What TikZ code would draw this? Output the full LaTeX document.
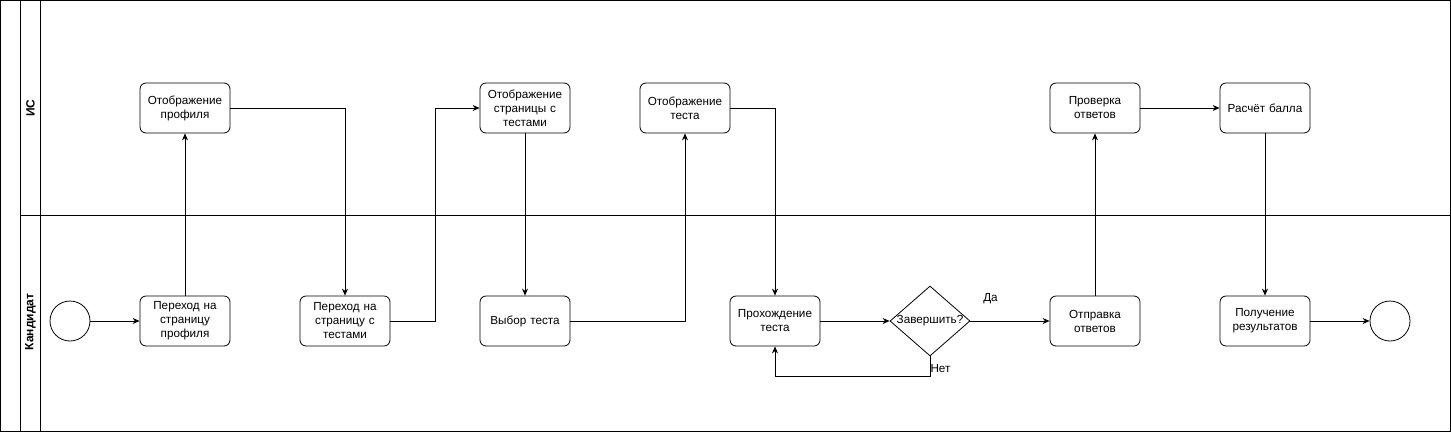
\documentclass[tikz,border=0pt]{standalone}
\usepackage{fontspec}
\setmainfont{Liberation Sans}
\usetikzlibrary{arrows.meta,shapes.geometric}
\begin{document}
\begin{tikzpicture}[x=1pt,y=-1pt,
  every node/.style={font=\fontsize{11.7}{14}\selectfont},
  task/.style={draw,rounded corners=6pt,minimum width=90pt,minimum height=50pt,align=center,text width=84pt,line width=0.8pt,inner sep=0pt},
  gate/.style={draw,diamond,aspect=1.14,minimum width=80pt,minimum height=70pt,inner sep=0pt,line width=0.8pt},
  evt/.style={draw,circle,minimum size=40pt,inner sep=0pt,line width=0.8pt},
  flow/.style={-{Stealth[length=7pt,width=6pt]},line width=0.8pt},
  lane/.style={line width=0.8pt},
  lanelabel/.style={rotate=90,font=\bfseries\fontsize{12}{14}\selectfont}]
\useasboundingbox (0,0) rectangle (1451,432);
% pool and lanes
\draw[lane] (0.5,0.5) rectangle (1450.5,431.5);
\draw[lane] (20.5,0.5) -- (20.5,431.5);
\draw[lane] (40.5,0.5) -- (40.5,431.5);
\draw[lane] (20.5,215.5) -- (1450.5,215.5);
\node[lanelabel] (l1) at (30.5,108) {ИС};
\node[lanelabel] (l2) at (30.5,322) {Кандидат};
% nodes
\node[evt] (start) at (70,321) {};
\node[task] (p1) at (185,321) {Переход на\\страницу\\профиля};
\node[task] (s1) at (185,108) {Отображение\\профиля};
\node[task] (p2) at (345,321) {Переход на\\страницу с\\тестами};
\node[task] (s2) at (525,108) {Отображение\\страницы с\\тестами};
\node[task] (p3) at (525,321) {Выбор теста};
\node[task] (s3) at (685,108) {Отображение\\теста};
\node[task] (p4) at (775,321) {Прохождение\\теста};
\node[gate] (g) at (930,321) {Завершить?};
\node[task] (p5) at (1095,321) {Отправка\\ответов};
\node[task] (s4) at (1095,108) {Проверка\\ответов};
\node[task] (s5) at (1265,108) {Расчёт балла};
\node[task] (p6) at (1265,321) {Получение\\результатов};
\node[evt] (end) at (1390,321) {};
% flows
\draw[flow] (start) -- (p1);
\draw[flow] (p1) -- (s1);
\draw[flow] (s1.east) -| (p2.north);
\draw[flow] (p2.east) -- ++(45,0) |- (s2.west);
\draw[flow] (s2) -- (p3);
\draw[flow] (p3.east) -| (s3.south);
\draw[flow] (s3.east) -| (p4.north);
\draw[flow] (p4.east) -- (g.west);
\draw[flow] (g.east) -- (p5.west);
\node (da) at (990.5,299) {Да};
\coordinate (nb) at (930,376.5);
\draw[flow] (g.south) -- (nb) -| (p4.south);
\node (net) at (940.5,369) {Нет};
\draw[flow] (p5) -- (s4);
\draw[flow] (s4) -- (s5);
\draw[flow] (s5) -- (p6);
\draw[flow] (p6) -- (end);
\end{tikzpicture}
\end{document}
